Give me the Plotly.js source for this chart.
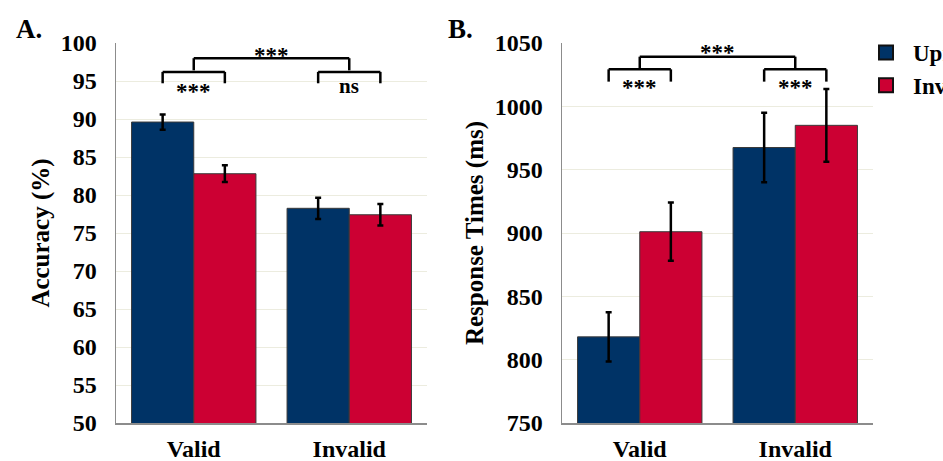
<!DOCTYPE html>
<html><head><meta charset="utf-8">
<script src="https://cdn.plot.ly/plotly-3.0.1.min.js"></script>
<style>html,body{margin:0;padding:0;background:#fff;overflow:hidden}</style>
</head><body><div id="chart" style="width:943px;height:461px"></div>
<script>
// ---- data ----
const categories = ['Valid', 'Invalid'];
const seriesNames = ['Upright', 'Inverted'];
const accuracyUpright = [89.6, 78.25];
const accuracyUprightErr = [1.0, 1.4];
const accuracyInverted = [82.8, 77.4];
const accuracyInvertedErr = [1.1, 1.4];
const rtUpright = [818, 967.5];
const rtUprightErr = [19.5, 27.5];
const rtInverted = [901, 985];
const rtInvertedErr = [23, 28.7];
// significance labels: [between conditions, within Valid, within Invalid]
const sigA = ['***', '***', 'ns'];
const sigB = ['***', '***', '***'];

const BLUE = '#003366', RED = '#cc0033';
const FONT = 'Liberation Serif, Times New Roman, serif';
const W = 943, H = 461;

function bar(x, y, err, color, xa, ya) {
  return {
    type: 'bar', x: x, y: y, xaxis: xa, yaxis: ya, showlegend: false,
    marker: {color: color, line: {color: '#3a3a3a', width: 1}},
    error_y: {type: 'data', array: err, visible: true, color: '#000', thickness: 2.5, width: 3}
  };
}
const data = [
  bar(categories, accuracyUpright, accuracyUprightErr, BLUE, 'x', 'y'),
  bar(categories, accuracyInverted, accuracyInvertedErr, RED, 'x', 'y'),
  bar(categories, rtUpright, rtUprightErr, BLUE, 'x2', 'y2'),
  bar(categories, rtInverted, rtInvertedErr, RED, 'x2', 'y2'),
  {type: 'scatter', mode: 'markers', x: [null], y: [null], name: seriesNames[0], xaxis: 'x2', yaxis: 'y2',
   marker: {symbol: 'square', size: 14, color: BLUE, line: {color: '#111', width: 2}}},
  {type: 'scatter', mode: 'markers', x: [null], y: [null], name: seriesNames[1], xaxis: 'x2', yaxis: 'y2',
   marker: {symbol: 'square', size: 14, color: RED, line: {color: '#111', width: 2}}}
];

const yDom = [1 - 423 / H, 1 - 43 / H];
const tickFont = {family: FONT, size: 24, color: '#000', weight: 'bold'};
const titleFont = {family: FONT, size: 25, color: '#000', weight: 'bold'};
function xax(d) {
  return {domain: d, type: 'category', range: [-0.5, 1.5], showline: true, linecolor: '#8c8c8c', linewidth: 1.5,
    showgrid: false, ticks: '', tickfont: tickFont, ticklabelstandoff: 4, fixedrange: true};
}
function yax(d, r, dt, anchor, title) {
  return {domain: d, range: r, dtick: dt, tick0: r[0], anchor: anchor, showline: true, linecolor: '#8c8c8c',
    linewidth: 1.5, showgrid: true, gridcolor: '#ececdf', gridwidth: 1, zeroline: false, ticks: '',
    tickfont: tickFont, ticklabelstandoff: 13, title: {text: title, font: titleFont, standoff: 4}};
}

// brackets
const shapes = [], annotations = [];
function bracket(xa, ya, x0, x1, yh, ye) {
  const s = {type: 'line', xref: xa, yref: ya, line: {color: '#000', width: 2.5}};
  shapes.push(Object.assign({}, s, {x0: x0, x1: x0, y0: ye, y1: yh}));
  shapes.push(Object.assign({}, s, {x0: x0, x1: x1, y0: yh, y1: yh}));
  shapes.push(Object.assign({}, s, {x0: x1, x1: x1, y0: yh, y1: ye}));
}
function label(xa, ya, x, y, t, sz) {
  annotations.push({xref: xa, yref: ya, x: x, y: y, text: t, showarrow: false,
    font: {family: FONT, size: sz || 23, color: '#000', weight: 'bold'}});
}
// Panel A
bracket('x', 'y', 0, 1, 98.0, 96.4);
bracket('x', 'y', -0.2, 0.2, 96.2, 94.7);
bracket('x', 'y', 0.8, 1.2, 96.2, 94.7);
label('x', 'y', 0.5, 98.4, sigA[0]);
label('x', 'y', 0, 93.6, sigA[1]);
label('x', 'y', 1, 94.4, sigA[2], 21);
// Panel B
bracket('x2', 'y2', 0, 1, 1039.2, 1030);
bracket('x2', 'y2', -0.2, 0.2, 1029.2, 1019.5);
bracket('x2', 'y2', 0.8, 1.2, 1029.2, 1019.5);
label('x2', 'y2', 0.5, 1042.5, sigB[0]);
label('x2', 'y2', 0, 1014.5, sigB[1]);
label('x2', 'y2', 1, 1014.5, sigB[2]);
// panel letters
annotations.push({xref: 'paper', yref: 'paper', x: 14 / W, y: 1 - 29 / H, xanchor: 'left', yanchor: 'middle',
  text: 'A.', showarrow: false, font: {family: FONT, size: 27, color: '#000', weight: 'bold'}});
annotations.push({xref: 'paper', yref: 'paper', x: 446 / W, y: 1 - 29 / H, xanchor: 'left', yanchor: 'middle',
  text: 'B.', showarrow: false, font: {family: FONT, size: 27, color: '#000', weight: 'bold'}});

const layout = {
  width: W, height: H,
  margin: {l: 0, r: 0, t: 0, b: 0, autoexpand: false},
  paper_bgcolor: '#fff', plot_bgcolor: '#fff',
  barmode: 'group', bargap: 0.2, bargroupgap: 0,
  font: {family: FONT, color: '#000'},
  xaxis: Object.assign(xax([116 / W, 427 / W]), {anchor: 'y'}),
  yaxis: yax(yDom, [50, 100], 5, 'x', 'Accuracy (%)'),
  xaxis2: Object.assign(xax([562 / W, 873 / W]), {anchor: 'y2'}),
  yaxis2: yax(yDom, [750, 1050], 50, 'x2', 'Response Times (ms)'),
  showlegend: true,
  legend: {x: 859 / W, xanchor: 'left', y: 1 - 31 / H, yanchor: 'top', bgcolor: 'rgba(0,0,0,0)',
    font: {family: FONT, size: 23, color: '#000', weight: 'bold'}, itemwidth: 44, itemsizing: 'trace', tracegroupgap: 0},
  shapes: shapes, annotations: annotations
};
Plotly.newPlot('chart', data, layout, {staticPlot: true, displayModeBar: false});
</script></body></html>
